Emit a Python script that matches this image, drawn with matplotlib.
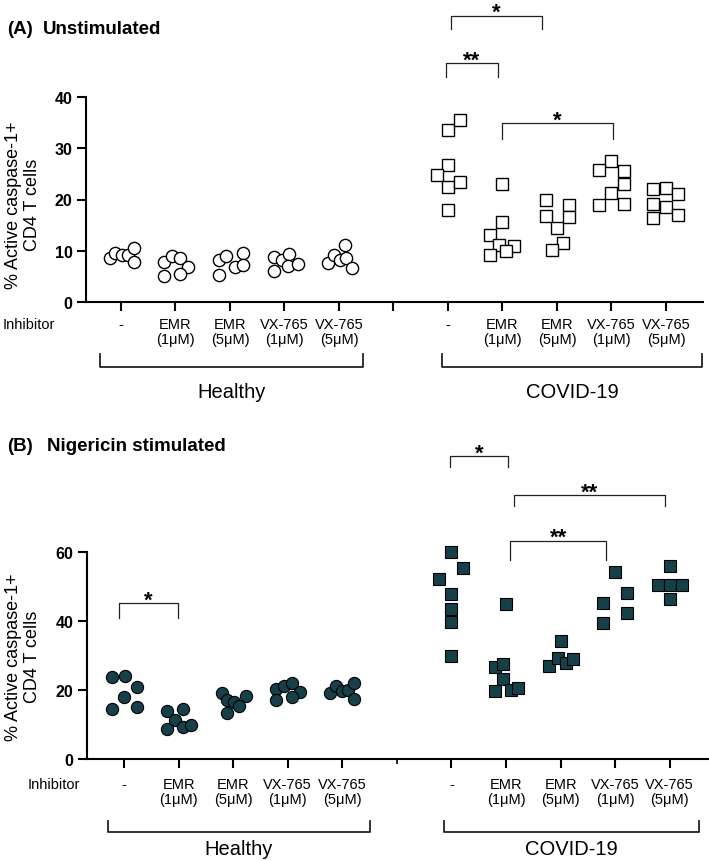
import matplotlib
matplotlib.use("Agg")
import matplotlib.pyplot as plt
import matplotlib.transforms as mtransforms
import numpy as np

plt.rcParams['font.family'] = ['Liberation Sans', 'DejaVu Sans']

# -------------------------------
# Data
# -------------------------------
inhibitors = ["-", "EMR\n(1μM)", "EMR\n(5μM)", "VX-765\n(1μM)", "VX-765\n(5μM)"]
cohorts = ["Healthy", "COVID-19"]

# (A) unstimulated, % active caspase-1+ CD4 T cells
unstim_healthy = [
    [8.6, 9.6, 9.1, 9.2, 10.5, 7.8],
    [7.8, 9.0, 8.6, 6.9, 5.1, 5.5],
    [8.1, 9.0, 9.5, 5.3, 6.8, 7.2],
    [8.8, 8.1, 9.4, 6.0, 7.0, 7.5],
    [7.6, 9.1, 8.1, 11.2, 8.6, 6.6],
]
unstim_healthy_jit = [
    [-0.21, -0.11, 0.01, 0.12, 0.23, 0.23],
    [-0.21, -0.07, 0.08, 0.23, -0.21, 0.08],
    [-0.21, -0.07, 0.23, -0.21, 0.09, 0.23],
    [-0.20, -0.05, 0.09, -0.20, 0.07, 0.24],
    [-0.21, -0.10, 0.02, 0.11, 0.12, 0.23],
]
unstim_covid = [
    [33.6, 35.6, 26.7, 24.8, 22.4, 23.5, 17.9],
    [23.1, 15.6, 13.1, 11.1, 10.9, 10.0, 9.1],
    [20.0, 16.7, 14.4, 18.9, 16.6, 11.5, 10.1],
    [27.6, 25.7, 25.6, 23.1, 21.3, 19.0, 19.1],
    [22.0, 22.2, 21.0, 19.1, 18.5, 17.0, 16.3],
]
unstim_covid_jit = [
    [0, 0.23, 0, -0.21, 0, 0.23, 0],
    [0, 0, -0.23, -0.07, 0.21, 0.07, -0.23],
    [-0.21, -0.21, 0, 0.23, 0.23, 0.11, -0.10],
    [0, -0.22, 0.23, 0.23, 0, -0.22, 0.23],
    [-0.23, 0, 0.22, -0.23, 0, 0.22, -0.23],
]

# (B) nigericin stimulated
nig_healthy = [
    [23.8, 24.1, 21.0, 18.0, 14.6, 15.0],
    [14.0, 14.5, 11.4, 8.8, 9.3, 10.0],
    [19.0, 17.1, 16.5, 18.2, 15.5, 13.4],
    [20.4, 21.2, 22.1, 19.4, 17.0, 18.0],
    [19.0, 21.2, 19.7, 20.0, 22.1, 17.5],
]
nig_healthy_jit = [
    [-0.22, 0.01, 0.23, 0, -0.22, 0.23],
    [-0.21, 0.08, -0.07, -0.21, 0.08, 0.23],
    [-0.21, -0.11, 0.01, 0.23, 0.11, -0.11],
    [-0.21, -0.06, 0.08, 0.23, -0.21, 0.08],
    [-0.23, -0.11, 0, 0.11, 0.22, 0.22],
]
nig_covid = [
    [60.0, 55.3, 52.3, 47.7, 43.4, 39.6, 30.0],
    [44.8, 26.6, 27.6, 23.2, 19.6, 20.1, 20.5],
    [34.1, 27.1, 29.3, 27.9, 29.1],
    [54.3, 48.0, 45.3, 42.4, 39.3],
    [55.8, 50.3, 50.3, 50.3, 46.3],
]
nig_covid_jit = [
    [0, 0.22, -0.22, 0, 0, 0, 0],
    [0, -0.20, -0.05, -0.05, -0.20, 0.09, 0.22],
    [0, -0.22, -0.05, 0.09, 0.22],
    [0, 0.21, -0.22, 0.21, -0.22],
    [0, -0.21, 0, 0.22, 0],
]

# significance brackets: (x from, x to, bracket top, leg drop, stars)
unstim_sig = [(7.05, 8.72, 55.8, 2.5, "*"),
              (6.96, 7.92, 46.6, 2.7, "**"),
              (8.0, 10.03, 34.9, 3.1, "*")]
nig_sig = [(0.91, 1.99, 45.1, 4.1, "*"),
           (6.98, 8.03, 87.7, 3.2, "*"),
           (8.14, 10.92, 76.4, 3.1, "**"),
           (8.08, 9.84, 63.3, 5.6, "**")]

healthy_pos = [1, 2, 3, 4, 5]
covid_pos = [7, 8, 9, 10, 11]
teal = "#173f48"

fig = plt.figure(figsize=(7.09, 8.62), dpi=100)
W, H = 709, 862


def px_axes(l, r, t, b):
    return fig.add_axes([l / W, 1 - b / H, (r - l) / W, (b - t) / H])


def draw_panel(ax, healthy, hjit, covid, cjit, filled, sig, ymax, yticks, lay):
    fc = teal if filled else "white"
    lw = 0.8 if filled else 1.0
    for pos, vals, jit in zip(healthy_pos, healthy, hjit):
        ax.plot(pos + np.array(jit), vals, linestyle="none", marker="o",
                ms=8.8, mfc=fc, mec="black", mew=lw, clip_on=False)
    for pos, vals, jit in zip(covid_pos, covid, cjit):
        ax.plot(pos + np.array(jit), vals, linestyle="none", marker="s",
                ms=9.2, mfc=fc, mec="black", mew=lw, clip_on=False)

    ax.set_ylim(0, ymax)
    ax.set_xlim(lay["xlim"])
    ax.set_yticks(yticks)
    for s in ["top", "right"]:
        ax.spines[s].set_visible(False)
    for s in ["left", "bottom"]:
        ax.spines[s].set_linewidth(1.5)
    ax.tick_params(direction="out", length=6.8, width=1.5, labelsize=11.5, pad=3)
    for t in ax.get_yticklabels():
        t.set_fontweight("bold")
    if lay["gap_major"]:
        ax.set_xticks(healthy_pos + [6] + covid_pos)
    else:
        ax.set_xticks(healthy_pos + covid_pos)
        ax.set_xticks([6], minor=True)
        ax.tick_params(axis="x", which="minor", direction="out", length=3.5, width=1.2)
    ax.set_xticklabels([])

    # significance brackets
    for x1, x2, y, drop, lab in sig:
        ax.plot([x1, x1, x2, x2], [y - drop, y, y, y - drop], color="#222222",
                lw=0.9, clip_on=False)
        ax.annotate(lab, xy=((x1 + x2) / 2, y), xytext=(0, -1.5),
                    textcoords="offset points", ha="center", va="baseline",
                    fontsize=16, fontweight="bold", annotation_clip=False)

    # labels under the axis
    tr = ax.get_xaxis_transform()
    hpx = ax.bbox.height

    def yb(px):
        return -px / hpx

    for pos_list in (healthy_pos, covid_pos):
        for pos, name in zip(pos_list, inhibitors):
            ax.text(pos, yb(lay["lab"]), name, transform=tr, ha="center",
                    va="top", fontsize=10.5, linespacing=1.05, clip_on=False)
    inh_tr = mtransforms.blended_transform_factory(fig.transFigure, ax.transAxes)
    ax.text(lay["inh_x"] / W, yb(lay["lab"]), "Inhibitor", ha="left", va="top",
            fontsize=10.5, transform=inh_tr)

    for (x1, x2), name in zip(lay["brk"], cohorts):
        ax.plot([x1, x1, x2, x2],
                [yb(lay["leg"]), yb(lay["bar"]), yb(lay["bar"]), yb(lay["leg"])],
                transform=tr, color="#222222", lw=1.3, clip_on=False)
        ax.text((x1 + x2) / 2, yb(lay["grp"]), name, transform=tr, ha="center",
                va="top", fontsize=14.5, clip_on=False)


# ---------- (A) ----------
axA = px_axes(86, 703, 98, 303)
layA = dict(xlim=(0.358, 11.68), gap_major=True, lab=15, inh_x=3, leg=52, bar=65,
            grp=80, brk=[(0.615, 5.44), (6.89, 11.66)])
draw_panel(axA, unstim_healthy, unstim_healthy_jit, unstim_covid, unstim_covid_jit,
           False, unstim_sig, 40, [0, 10, 20, 30, 40], layA)

# ---------- (B) ----------
axB = px_axes(87, 708, 553, 760)
layB = dict(xlim=(0.322, 11.70), gap_major=False, lab=18, inh_x=28, leg=62, bar=73,
            grp=80, brk=[(0.71, 5.5), (6.86, 11.53)])
draw_panel(axB, nig_healthy, nig_healthy_jit, nig_covid, nig_covid_jit,
           True, nig_sig, 60, [0, 20, 40, 60], layB)

# titles and y labels
for y, tag, title, tx in [(30, "(A)", "Unstimulated", 43),
                          (447, "(B)", "Nigericin stimulated", 47)]:
    fig.text(7 / W, 1 - y / H, tag, fontsize=13.5, fontweight="bold", va="center")
    fig.text(tx / W, 1 - y / H, title, fontsize=13.5, fontweight="bold", va="center")

for yc in [205, 657]:
    fig.text(23 / W, 1 - yc / H, "% Active caspase-1+\nCD4 T cells", rotation=90,
             ha="center", va="center", fontsize=13, linespacing=1.15)

fig.savefig("out.png", dpi=100)
